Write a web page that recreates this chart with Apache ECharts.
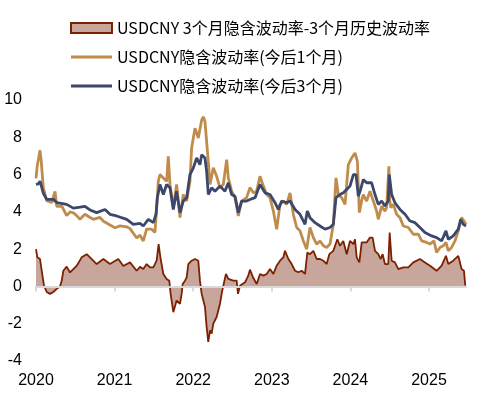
<!DOCTYPE html>
<html>
<head>
<meta charset="utf-8">
<script src="https://cdn.jsdelivr.net/npm/echarts@6/dist/echarts.min.js"></script>
<style>html,body{margin:0;padding:0;background:#fff}#c{width:485px;height:408px}</style>
</head>
<body>
<div id="c"></div>
<script>
// x values are fractional years (2020.5 = mid 2020)
var yearTicks = [2020, 2021, 2022, 2023, 2024, 2025];
var yTicks = [-4, -2, 0, 2, 4, 6, 8, 10];
var seriesNames = ['USDCNY 3个月隐含波动率-3个月历史波动率', 'USDCNY隐含波动率(今后1个月)', 'USDCNY隐含波动率(今后3个月)'];

var spreadIvHv = [
[2020.000,2.0],[2020.017,1.56],[2020.051,1.47],[2020.072,1.56],[2020.085,0.5],[2020.102,0.05],[2020.136,-0.3],[2020.178,-0.4],
[2020.221,-0.3],[2020.263,-0.13],[2020.305,0.0],[2020.327,0.3],[2020.348,0.84],[2020.390,1.06],[2020.433,0.75],[2020.475,0.93],
[2020.517,1.1],[2020.581,1.56],[2020.645,1.73],[2020.687,1.56],[2020.772,1.2],[2020.857,1.47],[2020.941,1.2],[2021.047,1.47],
[2021.111,1.1],[2021.196,1.29],[2021.281,0.84],[2021.323,1.05],[2021.365,0.93],[2021.408,1.2],[2021.450,1.02],[2021.493,1.02],
[2021.535,1.38],[2021.560,2.27],[2021.586,1.47],[2021.620,0.67],[2021.662,0.4],[2021.696,0.3],[2021.713,-0.4],[2021.747,-1.38],
[2021.789,-0.76],[2021.832,-0.93],[2021.853,-0.4],[2021.866,0.13],[2021.896,0.31],[2021.917,0.49],[2021.938,1.2],[2021.980,1.38],
[2022.023,1.47],[2022.065,1.38],[2022.086,0.31],[2022.108,-0.4],[2022.150,-1.1],[2022.171,-2.18],[2022.192,-2.98],[2022.214,-2.36],
[2022.235,-2.53],[2022.256,-2.0],[2022.298,-1.64],[2022.341,-0.93],[2022.362,-0.4],[2022.383,0.04],[2022.417,0.67],[2022.447,0.4],
[2022.510,0.31],[2022.553,0.31],[2022.570,-0.4],[2022.595,0.04],[2022.659,0.22],[2022.701,0.58],[2022.722,0.9],[2022.765,0.45],
[2022.808,0.13],[2022.850,0.67],[2022.893,0.58],[2022.935,0.67],[2022.977,0.93],[2023.020,0.67],[2023.062,1.11],[2023.105,1.38],
[2023.147,1.56],[2023.168,1.91],[2023.211,1.47],[2023.253,1.2],[2023.296,0.84],[2023.338,0.76],[2023.380,0.84],[2023.423,0.67],
[2023.452,1.82],[2023.486,1.73],[2023.529,1.91],[2023.571,1.47],[2023.614,1.47],[2023.656,1.38],[2023.698,1.2],[2023.732,1.73],
[2023.783,1.91],[2023.834,2.53],[2023.868,2.18],[2023.910,2.44],[2023.953,1.73],[2023.995,2.44],[2024.038,2.27],[2024.059,2.53],
[2024.080,1.56],[2024.114,1.29],[2024.144,2.36],[2024.164,2.27],[2024.207,2.36],[2024.249,2.62],[2024.283,2.62],[2024.313,1.91],
[2024.355,1.73],[2024.385,1.47],[2024.410,1.73],[2024.440,1.2],[2024.482,1.2],[2024.500,2.89],[2024.525,1.38],[2024.567,1.29],
[2024.610,0.93],[2024.673,1.02],[2024.737,1.02],[2024.801,1.29],[2024.885,1.47],[2024.949,1.29],[2025.013,1.11],[2025.097,0.84],
[2025.161,1.11],[2025.216,1.64],[2025.246,1.2],[2025.309,1.38],[2025.373,1.64],[2025.415,0.93],[2025.445,0.84],[2025.462,0.04]
];

var iv1M = [
[2020.000,5.8],[2020.017,6.5],[2020.040,6.4],[2020.051,7.3],[2020.065,6.8],[2020.093,5.3],[2020.136,4.6],[2020.200,4.5],
[2020.242,5.1],[2020.263,4.3],[2020.330,4.3],[2020.390,3.8],[2020.433,4.0],[2020.475,3.95],[2020.517,3.8],[2020.560,3.6],
[2020.623,3.87],[2020.687,3.7],[2020.729,3.6],[2020.814,3.7],[2020.857,3.5],[2020.899,3.4],[2020.941,3.3],[2021.005,3.15],
[2021.069,3.25],[2021.154,3.2],[2021.196,3.1],[2021.281,2.6],[2021.323,2.75],[2021.365,2.44],[2021.408,3.07],[2021.471,3.07],
[2021.514,2.9],[2021.535,4.22],[2021.556,5.64],[2021.577,6.0],[2021.620,5.82],[2021.662,5.64],[2021.683,6.98],[2021.705,5.47],
[2021.747,4.22],[2021.789,5.47],[2021.832,3.69],[2021.874,4.93],[2021.917,4.58],[2021.959,5.64],[2021.980,7.42],[2022.023,8.49],
[2022.065,7.96],[2022.108,8.93],[2022.129,9.1],[2022.150,8.84],[2022.171,8.84],[2022.192,6.7],[2022.214,5.47],[2022.256,6.36],
[2022.298,5.91],[2022.341,5.29],[2022.383,5.47],[2022.426,6.8],[2022.447,5.82],[2022.489,5.11],[2022.532,4.76],[2022.574,3.78],
[2022.616,4.58],[2022.680,4.76],[2022.722,5.3],[2022.765,5.02],[2022.808,5.11],[2022.850,5.91],[2022.893,5.38],[2022.935,4.93],
[2022.977,4.76],[2023.020,4.04],[2023.062,3.07],[2023.105,4.4],[2023.147,4.58],[2023.189,4.4],[2023.232,5.02],[2023.274,3.87],
[2023.317,3.16],[2023.359,2.98],[2023.402,2.44],[2023.444,2.0],[2023.486,3.16],[2023.529,2.62],[2023.571,2.27],[2023.614,2.44],
[2023.656,2.18],[2023.698,2.09],[2023.741,2.27],[2023.783,3.33],[2023.817,5.82],[2023.847,4.93],[2023.889,4.76],[2023.932,4.4],
[2023.974,6.53],[2024.016,6.89],[2024.059,7.16],[2024.089,6.71],[2024.114,3.96],[2024.144,4.6],[2024.164,4.93],[2024.207,4.58],
[2024.249,5.11],[2024.292,4.58],[2024.334,4.04],[2024.355,3.6],[2024.398,4.31],[2024.440,4.04],[2024.461,4.22],[2024.490,6.44],
[2024.500,4.6],[2024.516,4.22],[2024.546,4.4],[2024.588,3.87],[2024.631,3.69],[2024.673,3.24],[2024.737,3.16],[2024.801,2.8],
[2024.864,2.8],[2024.907,2.44],[2024.970,2.36],[2025.013,2.27],[2025.063,2.44],[2025.097,1.82],[2025.140,2.09],[2025.182,2.18],
[2025.216,2.36],[2025.246,1.91],[2025.288,2.09],[2025.331,2.44],[2025.373,2.98],[2025.415,3.69],[2025.445,3.51],[2025.471,3.33]
];

var iv3M = [
[2020.000,5.47],[2020.030,5.5],[2020.051,5.65],[2020.093,5.0],[2020.136,4.67],[2020.221,4.67],[2020.263,4.5],[2020.284,4.5],
[2020.390,4.4],[2020.475,4.2],[2020.560,4.25],[2020.623,4.3],[2020.687,4.1],[2020.772,3.96],[2020.878,4.13],[2020.941,3.87],
[2021.026,3.78],[2021.154,3.6],[2021.238,3.33],[2021.323,3.38],[2021.365,3.24],[2021.429,3.6],[2021.493,3.42],[2021.527,3.87],
[2021.544,4.76],[2021.577,5.47],[2021.620,4.93],[2021.662,5.47],[2021.705,5.29],[2021.747,4.13],[2021.789,5.11],[2021.832,3.96],
[2021.874,4.58],[2021.917,4.76],[2021.959,6.0],[2022.002,6.36],[2022.044,6.89],[2022.086,6.53],[2022.108,7.07],[2022.150,6.89],
[2022.171,6.18],[2022.192,4.93],[2022.235,5.29],[2022.277,5.11],[2022.341,5.38],[2022.404,5.11],[2022.447,5.56],[2022.489,4.93],
[2022.532,4.84],[2022.574,3.96],[2022.616,4.58],[2022.680,4.58],[2022.744,4.7],[2022.787,4.76],[2022.850,5.47],[2022.914,5.02],
[2022.977,4.93],[2023.041,4.49],[2023.083,4.13],[2023.126,4.58],[2023.189,4.49],[2023.232,4.58],[2023.296,4.13],[2023.359,3.87],
[2023.423,3.33],[2023.452,4.04],[2023.486,3.69],[2023.550,3.42],[2023.614,3.24],[2023.677,3.07],[2023.741,3.16],[2023.783,3.33],
[2023.817,4.76],[2023.868,4.93],[2023.910,5.02],[2023.953,5.2],[2023.995,5.38],[2024.038,6.0],[2024.072,6.0],[2024.101,4.84],
[2024.130,5.2],[2024.164,5.73],[2024.207,5.56],[2024.270,5.56],[2024.313,4.93],[2024.355,4.4],[2024.398,4.58],[2024.440,4.31],
[2024.482,4.58],[2024.495,6.0],[2024.525,4.93],[2024.567,4.49],[2024.631,4.13],[2024.695,3.87],[2024.758,3.51],[2024.822,3.42],
[2024.885,3.16],[2024.949,2.89],[2025.034,2.71],[2025.097,2.62],[2025.161,2.44],[2025.216,2.98],[2025.246,2.53],[2025.309,2.71],
[2025.373,3.07],[2025.403,3.6],[2025.437,3.33],[2025.471,3.24]
];

var colSpreadLine = '#7B2100', colSpreadFill = '#C9A69C', col1M = '#C08C4C', col3M = '#3B476B';
var chart = echarts.init(document.getElementById('c'), null, {renderer: 'canvas'});
var xMin = 2020, xMax = 2025.471;
var fontCJK = '"Noto Sans CJK SC", "Noto Sans", sans-serif';
var fontNum = '"Liberation Sans", Arial, sans-serif';
var lineIcon = 'path://M0,0L41,0L41,3L0,3Z';
chart.setOption({
  animation: false,
  backgroundColor: '#fff',
  grid: {left: 36, right: 19, top: 100, bottom: 47, containLabel: false},
  legend: {
    orient: 'vertical', left: 65, top: 15, itemWidth: 41, itemHeight: 10, itemGap: 13,
    textStyle: {fontFamily: fontCJK, fontSize: 16, color: '#000'},
    data: [
      {name: seriesNames[0], icon: 'rect', itemStyle: {color: colSpreadFill, borderColor: colSpreadLine, borderWidth: 2}},
      {name: seriesNames[1], icon: lineIcon, itemStyle: {color: col1M, borderWidth: 0}},
      {name: seriesNames[2], icon: lineIcon, itemStyle: {color: col3M, borderWidth: 0}}
    ]
  },
  xAxis: [
    {type: 'value', min: xMin, max: xMax, position: 'bottom',
     axisLine: {show: false, onZero: false}, axisTick: {show: false}, splitLine: {show: false},
     axisLabel: {customValues: yearTicks, margin: 12, fontSize: 16, color: '#000', fontFamily: fontNum,
       formatter: function (v) { return String(Math.round(v)); }}},
    {type: 'value', min: xMin, max: xMax, position: 'bottom', z: 10,
     axisLine: {show: true, onZero: true, lineStyle: {color: '#d9d9d9', width: 2}},
     axisTick: {show: true, customValues: yearTicks, length: 5, lineStyle: {color: '#d9d9d9', width: 2}},
     axisLabel: {show: false}, splitLine: {show: false}}
  ],
  yAxis: {type: 'value', min: -4, max: 10, interval: 2,
    axisLine: {show: false}, axisTick: {show: false}, splitLine: {show: false},
    axisLabel: {margin: 14, fontSize: 16, color: '#000', fontFamily: fontNum}},
  series: [
    {name: seriesNames[0], type: 'line', data: spreadIvHv, symbol: 'none', xAxisIndex: 0,
     lineStyle: {color: colSpreadLine, width: 1.8}, itemStyle: {color: colSpreadFill},
     areaStyle: {color: colSpreadFill, opacity: 1}},
    {name: seriesNames[1], type: 'line', data: iv1M, symbol: 'none', xAxisIndex: 0,
     lineStyle: {color: col1M, width: 2.8}, itemStyle: {color: col1M}},
    {name: seriesNames[2], type: 'line', data: iv3M, symbol: 'none', xAxisIndex: 0,
     lineStyle: {color: col3M, width: 2.8}, itemStyle: {color: col3M}}
  ]
});
</script>
</body>
</html>
